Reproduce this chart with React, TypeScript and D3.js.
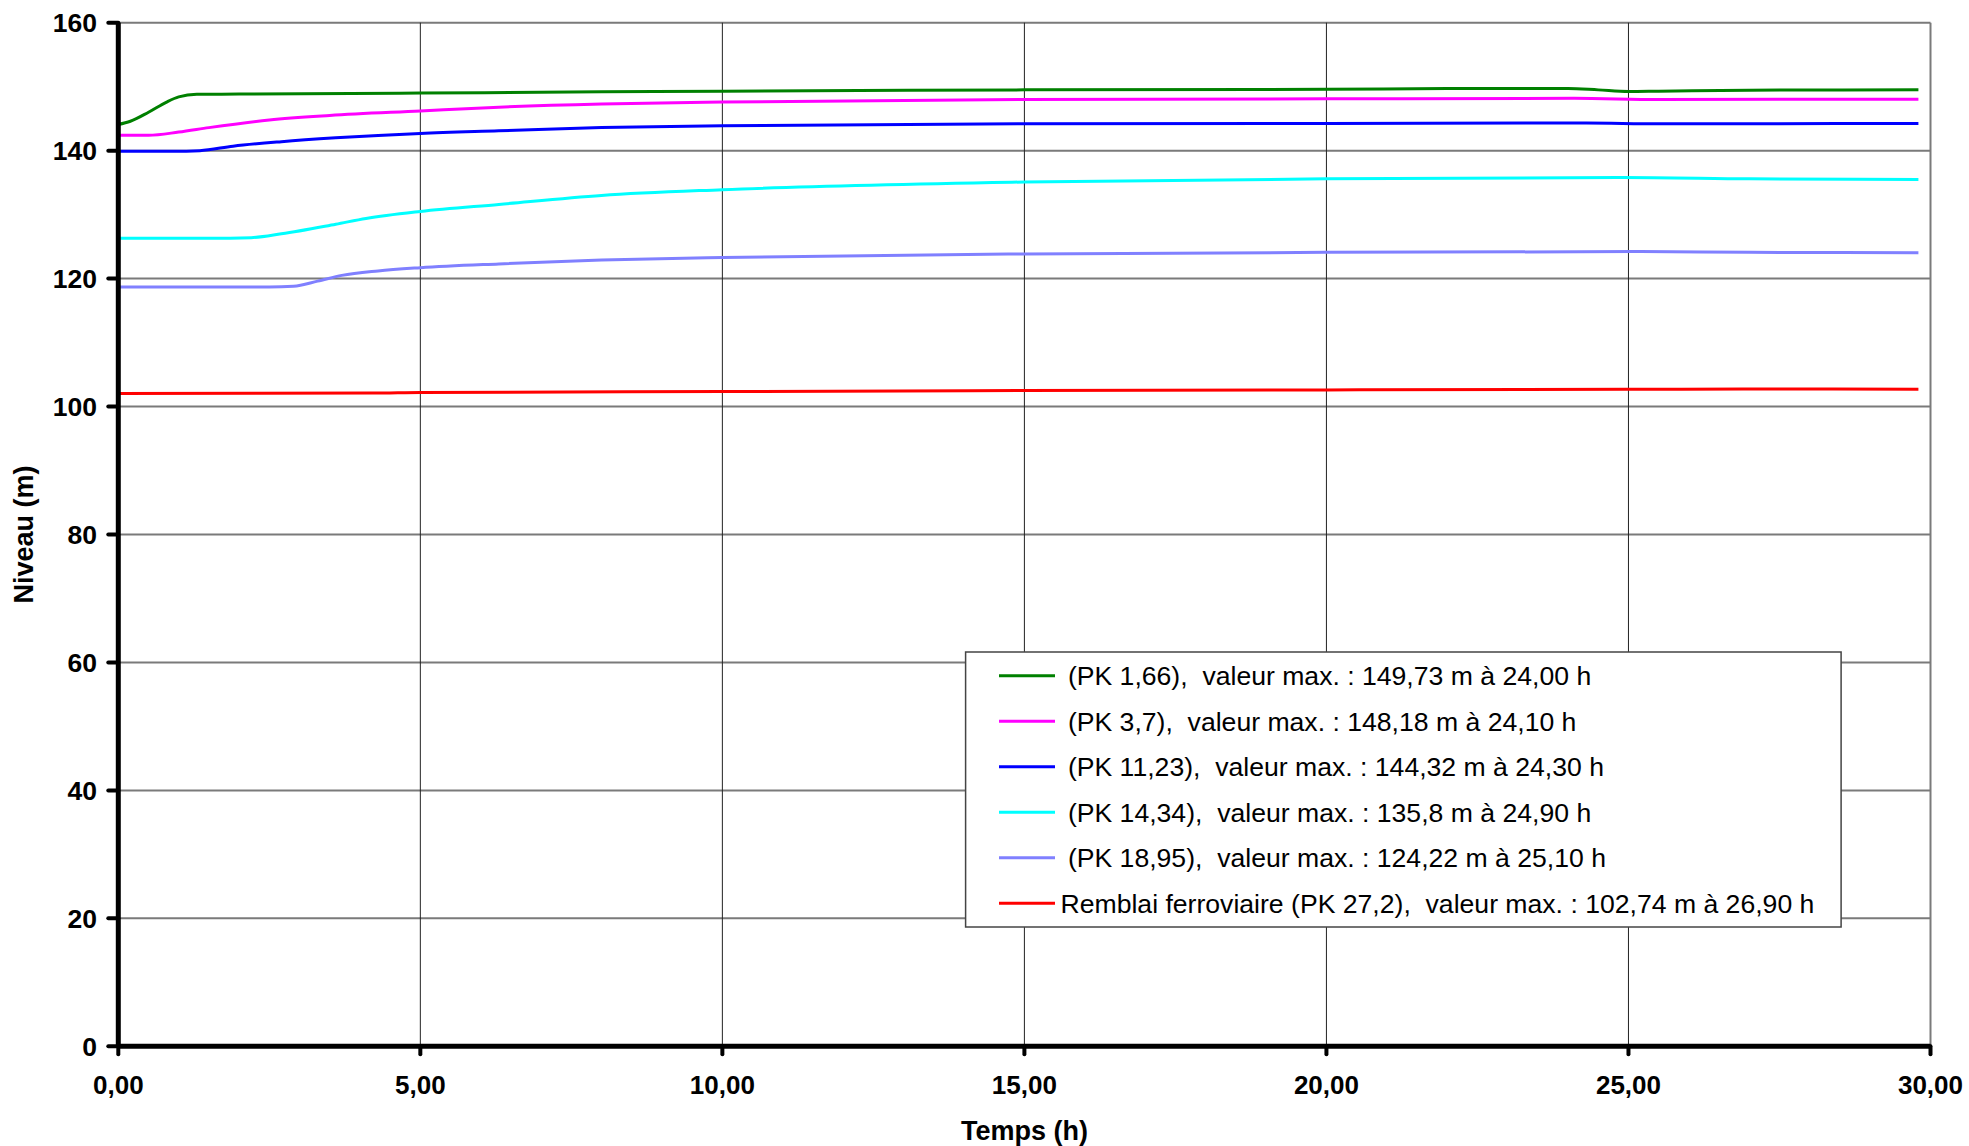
import React from "react";
import * as d3 from "d3";

const yTicks = [0, 20, 40, 60, 80, 100, 120, 140, 160];
const xTicks = [0, 5, 10, 15, 20, 25, 30];

const tGreen = [0, 0.2, 0.5, 0.8, 1.0, 1.3, 2, 5, 8, 10, 15, 20, 22, 24, 24.5, 25.0, 25.5, 27, 29.8];
const vGreen = [144.1, 144.6, 146.0, 147.6, 148.4, 148.8, 148.85, 149.0, 149.2, 149.3, 149.5, 149.6, 149.7, 149.73, 149.5, 149.25, 149.3, 149.45, 149.5];

const tMagenta = [0, 0.5, 1.0, 1.5, 2.5, 3.5, 5, 6.3, 8, 10, 15, 20, 24.1, 25.5, 29.8];
const vMagenta = [142.4, 142.4, 142.9, 143.6, 144.8, 145.5, 146.2, 146.8, 147.3, 147.6, 148.0, 148.1, 148.18, 148.0, 148.05];

const tBlue = [0, 0.9, 1.35, 1.9, 2.7, 3.6, 5, 6.3, 8, 10, 15, 20, 24.3, 25.5, 29.8];
const vBlue = [139.9, 139.9, 140.0, 140.7, 141.4, 142.0, 142.7, 143.1, 143.6, 143.9, 144.2, 144.25, 144.32, 144.2, 144.25];

const tCyan = [0, 1.5, 2.2, 2.7, 3.6, 4.1, 5, 6.3, 8, 10, 15, 20, 24.9, 27, 29.8];
const vCyan = [126.3, 126.3, 126.4, 127.0, 128.5, 129.4, 130.5, 131.6, 133.0, 133.9, 135.1, 135.6, 135.8, 135.6, 135.5];

const tPurple = [0, 2.5, 2.9, 3.3, 3.7, 4.3, 5, 6.3, 8, 10, 15, 20, 25.1, 27, 29.8];
const vPurple = [118.7, 118.7, 118.8, 119.6, 120.5, 121.2, 121.7, 122.3, 122.9, 123.3, 123.85, 124.1, 124.22, 124.1, 124.05];

const tRed = [0, 4.2, 5, 10, 15, 20, 25, 26.9, 29.8];
const vRed = [102.05, 102.1, 102.2, 102.35, 102.5, 102.6, 102.7, 102.74, 102.72];

const seriesNames = [
  " (PK 1,66),  valeur max. : 149,73 m à 24,00 h",
  " (PK 3,7),  valeur max. : 148,18 m à 24,10 h",
  " (PK 11,23),  valeur max. : 144,32 m à 24,30 h",
  " (PK 14,34),  valeur max. : 135,8 m à 24,90 h",
  " (PK 18,95),  valeur max. : 124,22 m à 25,10 h",
  "Remblai ferroviaire (PK 27,2),  valeur max. : 102,74 m à 26,90 h",
];
const seriesColors = ["#008000", "#FF00FF", "#0000FF", "#00FFFF", "#8080FF", "#FF0000"];
const seriesT = [tGreen, tMagenta, tBlue, tCyan, tPurple, tRed];
const seriesV = [vGreen, vMagenta, vBlue, vCyan, vPurple, vRed];

const W = 1969;
const H = 1146;
const left = 118.3;
const right = 1930.5;
const top = 22.7;
const bottom = 1046.3;
const FONT = "'Liberation Sans', Arial, Helvetica, sans-serif";

const fmtX = (v: number) => v.toFixed(2).replace(".", ",");

export default function App() {
  const x = d3.scaleLinear().domain([0, 30]).range([left, right]);
  const y = d3.scaleLinear().domain([0, 160]).range([bottom, top]);
  const line = d3
    .line<[number, number]>()
    .x((d) => x(d[0]))
    .y((d) => y(d[1]))
    .curve(d3.curveMonotoneX);

  const legX = 965.6;
  const legY = 652;
  const legW = 875.5;
  const legH = 275;
  const rowH = 45.5;
  const row0 = 675.7;

  return (
    <svg
      width={W}
      height={H}
      style={{ position: "absolute", left: 0, top: 0, background: "#fff" }}
      fontFamily={FONT}
    >
      <rect x={0} y={0} width={W} height={H} fill="#fff" />
      {yTicks.filter((v) => v > 0).map((v) => (
        <line key={"hy" + v} x1={left} x2={right} y1={y(v)} y2={y(v)} stroke="#7a7a7a" strokeWidth={2} />
      ))}
      {xTicks.filter((v) => v > 0).map((v) => (
        <line
          key={"vx" + v}
          x1={x(v)}
          x2={x(v)}
          y1={top}
          y2={bottom}
          stroke={v === 30 ? "#7a7a7a" : "#222"}
          strokeWidth={v === 30 ? 2 : 1}
        />
      ))}
      {seriesT.map((ts, i) => {
        const pts: [number, number][] = ts.map((t, j) => [t, seriesV[i][j]]);
        return (
          <path key={"s" + i} d={line(pts) || ""} fill="none" stroke={seriesColors[i]} strokeWidth={3} />
        );
      })}
      <line x1={left} x2={left} y1={top} y2={bottom} stroke="#000" strokeWidth={5} />
      <line x1={left} x2={right} y1={bottom} y2={bottom} stroke="#000" strokeWidth={5} />
      {yTicks.map((v) => (
        <g key={"yt" + v}>
          <line x1={left - 10} x2={left} y1={y(v)} y2={y(v)} stroke="#000" strokeWidth={4} strokeLinecap="round" />
          <text x={97} y={y(v)} dy="0.35em" textAnchor="end" fontSize={26.5} fontWeight="bold" fill="#000">
            {v}
          </text>
        </g>
      ))}
      {xTicks.map((v) => (
        <g key={"xt" + v}>
          <line x1={x(v)} x2={x(v)} y1={bottom} y2={bottom + 8} stroke="#000" strokeWidth={4} strokeLinecap="round" />
          <text x={x(v)} y={1094} textAnchor="middle" fontSize={26} fontWeight="bold" fill="#000">
            {fmtX(v)}
          </text>
        </g>
      ))}
      <text x={(left + right) / 2} y={1140} textAnchor="middle" fontSize={27} fontWeight="bold" fill="#000">
        Temps (h)
      </text>
      <text
        transform={`translate(33, ${(top + bottom) / 2}) rotate(-90)`}
        textAnchor="middle"
        fontSize={27}
        fontWeight="bold"
        fill="#000"
      >
        Niveau (m)
      </text>
      <rect x={legX} y={legY} width={legW} height={legH} fill="#fff" stroke="#444" strokeWidth={1.5} />
      {seriesNames.map((name, i) => {
        const cy = row0 + i * rowH;
        return (
          <g key={"lg" + i}>
            <line x1={999} x2={1055} y1={cy} y2={cy} stroke={seriesColors[i]} strokeWidth={3} />
            <text x={1060.5} y={cy + 9.5} fontSize={26.6} fill="#000" style={{ whiteSpace: "pre" }}>
              {name}
            </text>
          </g>
        );
      })}
    </svg>
  );
}
